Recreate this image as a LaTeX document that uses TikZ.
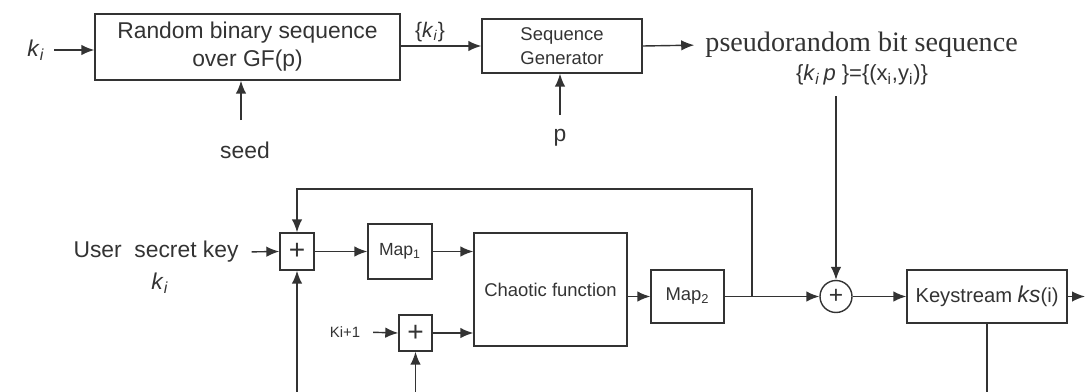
\documentclass[tikz,border=0pt]{standalone}
\usepackage{fontspec}
\setmainfont{Liberation Sans}
\newfontfamily\serifrm{Liberation Serif}
\usetikzlibrary{arrows.meta}

\newcommand{\fs}[1]{\fontsize{#1}{#1}\selectfont}
\newcommand{\ki}{\textit{k}\textsubscript{\textit{i}}}

\begin{document}
\begin{tikzpicture}[x=0.02cm,y=-0.02cm,>={Latex[length=2.6mm,width=2.1mm]},
  color=black!80, line width=0.8pt,
  blk/.style={draw,rectangle,inner sep=1pt,align=center},
  sumbox/.style={draw,rectangle,minimum width=0.68cm,minimum height=0.74cm,inner sep=0pt,font=\fs{16}},
  lbl/.style={inner sep=1pt},
  arr/.style={->}]
\useasboundingbox (0,0) rectangle (1085,392);

% upper chain
\node[lbl,font=\fs{13}] (kin) at (36,50) {\ki};
\node[blk,minimum width=6.1cm,minimum height=1.32cm,font=\fs{13}] (rbs) at (247.5,47)
  {Random binary sequence\\[3pt]over GF(p)};
\node[lbl,font=\fs{13}] (seed) at (245,150) {seed};
\coordinate (seedtip) at (241,120);
\node[lbl,font=\fs{12}] (kset) at (430,32) {\{\textit{k}\textsubscript{\textit{i}}\}};
\node[blk,minimum width=3.2cm,minimum height=1.08cm,font=\fs{10.5}] (gen) at (562,46)
  {Sequence\\[3pt]Generator};
\node[lbl,font=\fs{13}] (pin) at (560,138) {p};
\coordinate (ptip) at (560,115);
\node[lbl,anchor=west,font=\serifrm\fs{16}] (prbs) at (703,45) {pseudorandom bit sequence};
\node[lbl,font=\fs{12.5}] (kp) at (862,75)
  {\{\textit{k}\textsubscript{\textit{i}}\,\textit{p} \}=\{(x\textsubscript{i},y\textsubscript{i})\}};

\draw[arr] (kin.east) ++(4pt,0) coordinate (kout) (kout) -- (kout -| rbs.west);
\draw[arr] (seedtip) -- (seedtip |- rbs.south);
\draw[arr] (rbs.east |- gen) -- (gen.west);
\draw[arr] (ptip) -- (ptip |- gen.south);
\draw[arr,shorten >=5pt] (gen.east) -- (prbs.west);

% lower chain
\node[lbl,anchor=east,font=\fs{13}] (user) at (241,252) {User\ \ secret key};
\node[lbl,font=\fs{13}] (ukey) at (160,283) {\ki};
\node[sumbox] (sum1) at (297,251.5) {+};
\node[blk,minimum width=1.28cm,minimum height=1.1cm,font=\fs{10}] (map1) at (400,251.5) {Map\textsubscript{1}};
\node[lbl,font=\fs{8.5}] (kinc) at (345,332) {Ki+1};
\node[sumbox,minimum width=0.66cm,minimum height=0.72cm] (sum2) at (415.5,333) {+};
\node[blk,minimum width=3.06cm,minimum height=2.26cm,font=\fs{10.5}] (chaos) at (550.5,289.5) {Chaotic function};
\node[blk,minimum width=1.46cm,minimum height=1.06cm,font=\fs{10.5}] (map2) at (687.5,296.5) {Map\textsubscript{2}};
\node[draw,circle,minimum size=0.64cm,inner sep=0pt,font=\fs{14}] (xor) at (836,296.5) {+};
\node[blk,minimum width=3.2cm,minimum height=1.06cm,font=\fs{11.5}] (ks) at (987,296.5)
  {Keystream {\fs{13}\textit{ks}}(i)};

\coordinate (br) at (752,296.5);
\coordinate (fbk) at (752,189);
\coordinate (bot1) at (297,392);
\coordinate (bot2) at (415.5,392);
\coordinate (bot3) at (987,392);
\coordinate (out) at (1085,296.5);

\draw[arr,shorten <=6pt] (user.east) -- (sum1.west);
\draw[arr] (sum1.east) -- (map1.west);
\draw[arr] (map1.east) -- (map1.east -| chaos.west);
\draw[arr,shorten <=6pt] (kinc.east) -- (sum2.west);
\draw[arr] (sum2.east) -- (sum2.east -| chaos.west);
\draw[arr] (chaos.east |- map2) -- (map2.west);
\draw[arr] (map2.east) -- (xor.west);
\draw[arr] (br) -- (fbk) -| (sum1.north);
\draw[arr] (bot1) -- (sum1.south);
\draw[arr] (bot2) -- (sum2.south);
\draw[arr] ([yshift=-5pt]kp.south -| xor.north) -- (xor.north);
\draw[arr] (xor.east) -- (ks.west);
\draw[arr] (ks.east) -- (out);
\draw (ks.south) -- (bot3);
\end{tikzpicture}
\end{document}
